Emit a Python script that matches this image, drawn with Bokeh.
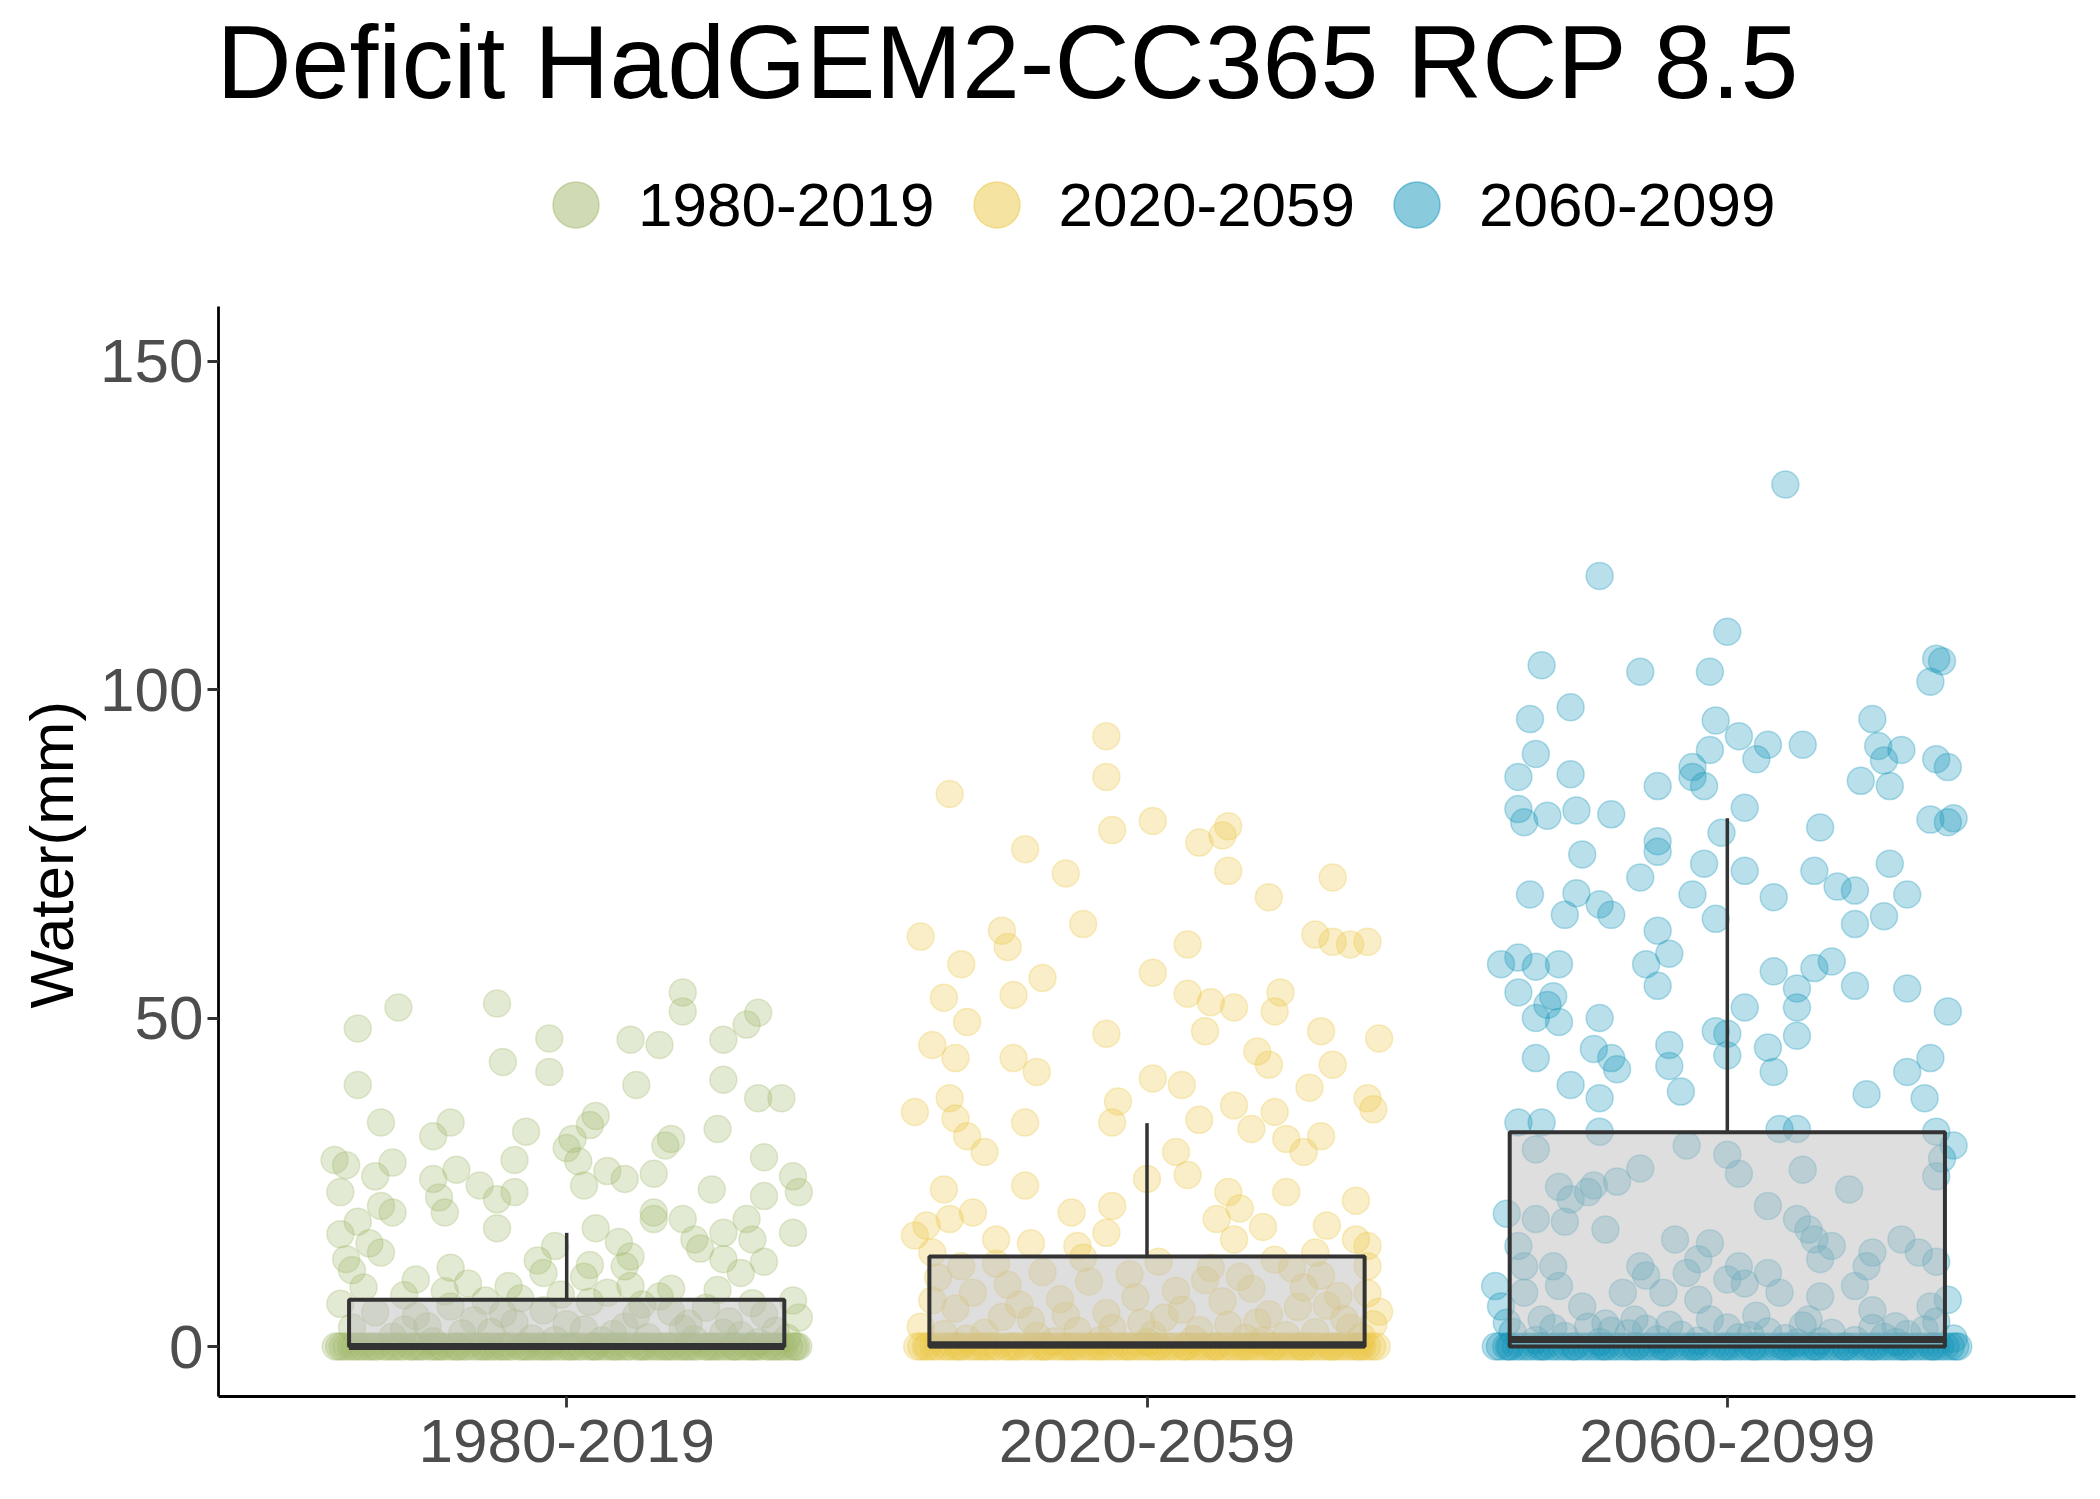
from bokeh.plotting import figure
from bokeh.models import Range1d, FixedTicker, Legend, LegendItem, Label, Title
from bokeh.embed import file_html
from bokeh.resources import INLINE

periods = ["1980-2019", "2020-2059", "2060-2099"]
colors = ["#A2B86C", "#EBC844", "#1496BB"]
title_text = "Deficit HadGEM2-CC365 RCP 8.5"

# boxplot stats (mm)
box_q1 = [0.0, 0.0, 0.0]
box_med = [0.0, 0.25, 1.05]
box_q3 = [7.1, 13.7, 32.6]
whisk_hi = [17.3, 34.0, 80.4]

# jittered monthly deficits, non-zero values (offset from the category, water mm)
g1_jit = [-0.29, -0.12, 0.20, 0.20, 0.33, 0.31, -0.36, -0.03, 0.11, 0.16,
          0.27, -0.11, -0.03, -0.36, 0.12, 0.27, 0.33, 0.37, -0.32, -0.20,
          -0.23, 0.05, 0.04, -0.07, 0.26, 0.00, 0.01, 0.17, 0.18, -0.40,
          -0.38, -0.30, -0.33, -0.19, -0.09, 0.02, 0.07, 0.10, 0.15, 0.34,
          0.39, 0.03, -0.15, -0.09, -0.23, -0.39, 0.40, 0.25, 0.34, -0.22,
          -0.12, -0.32, -0.30, -0.21, 0.15, 0.15, 0.20, -0.36, 0.31, -0.12,
          -0.39, 0.05, 0.27, 0.39, -0.34, 0.32, 0.22, -0.02, 0.09, -0.38,
          -0.32, 0.11, 0.23, -0.05, 0.10, 0.04, -0.37, -0.20, 0.27, -0.04,
          0.34, 0.30, 0.03, -0.26, -0.17, 0.11, 0.18, -0.10,
          -0.39, -0.33, -0.28, -0.24, -0.20, -0.16, -0.13, -0.08, -0.04, 0.00,
          0.04, 0.08, 0.12, 0.16, 0.20, 0.24, 0.28, 0.32, 0.36, 0.40,
          -0.37, -0.30, -0.26, -0.21, -0.18, -0.11, -0.06, -0.01, 0.03, 0.07,
          0.10, 0.14, 0.18, 0.22, 0.26, 0.30, 0.34, 0.38, -0.35, -0.23,
          -0.09, 0.06, 0.21, 0.33, 0.39, -0.14, -0.02, 0.13, 0.27, -0.28]
g1_val = [51.6, 52.2, 53.9, 51.0, 50.8, 49.0, 48.4, 46.9, 46.7, 45.9,
          46.7, 43.3, 41.8, 39.8, 39.8, 40.6, 37.8, 37.8, 34.1, 34.1,
          32.0, 35.1, 33.7, 32.7, 33.1, 30.2, 31.6, 30.6, 31.6, 28.4,
          27.6, 28.0, 25.9, 26.9, 28.4, 28.2, 26.7, 25.5, 26.3, 28.8,
          25.9, 24.5, 24.5, 23.5, 25.5, 23.5, 23.5, 23.9, 22.9, 22.7,
          22.4, 21.4, 20.4, 20.4, 20.4, 19.4, 19.4, 19.0, 19.4, 18.0,
          17.1, 18.0, 17.3, 17.3, 15.7, 16.3, 16.3, 15.3, 15.9, 13.3,
          14.3, 13.7, 14.9, 13.1, 12.2, 12.4, 11.6, 12.0, 13.3, 11.2,
          12.9, 11.2, 10.6, 10.2, 9.6, 9.2, 8.8, 9.2,
          6.5, 5.2, 7.8, 3.1, 6.1, 4.0, 2.2, 7.3, 5.5, 3.4,
          6.8, 1.9, 4.8, 7.6, 2.7, 5.9, 3.8, 6.6, 2.4, 4.4,
          2.9, 1.5, 4.6, 8.4, 2.0, 5.0, 1.2, 7.9, 2.6, 8.2,
          3.0, 1.4, 5.3, 1.1, 8.6, 1.7, 4.9, 1.3, 9.0, 0.8,
          3.6, 0.9, 3.5, 0.7, 7.0, 7.0, 1.0, 6.4, 2.1, 2.6]

g2_jit = [-0.07, -0.07, -0.34, 0.01, -0.06, 0.14, 0.13, 0.09, -0.21, -0.14,
          0.14, 0.32, 0.21, -0.11, -0.39, -0.25, -0.24, 0.07, 0.29, 0.32,
          0.35, 0.38, -0.32, -0.18, 0.01, -0.35, -0.23, 0.07, 0.11, 0.15,
          0.22, 0.23, -0.31, -0.07, 0.10, 0.30, -0.37, -0.33, -0.23, -0.19,
          0.01, 0.06, 0.19, 0.21, 0.40, 0.32, -0.34, -0.05, -0.40, -0.33,
          -0.21, -0.06, 0.09, 0.15, 0.18, 0.38, 0.39, 0.22, 0.28, 0.24,
          -0.31, -0.28, 0.05, 0.27, 0.30, -0.21, -0.35, 0.00, 0.07, 0.14,
          0.24, 0.36, 0.16, -0.30, -0.13, -0.06, 0.12, 0.20, -0.07, -0.40,
          -0.26, -0.20, -0.37, -0.34, 0.31, 0.38, 0.38, 0.29, -0.12, -0.32,
          -0.38, 0.15, 0.36,
          -0.36, -0.30, -0.26, -0.22, -0.18, -0.14, -0.10, -0.06, -0.02, 0.02,
          0.06, 0.10, 0.14, 0.18, 0.22, 0.26, 0.30, 0.34, 0.38, -0.39,
          -0.33, -0.28, -0.24, -0.19, -0.15, -0.11, -0.07, -0.03, 0.01, 0.05,
          0.09, 0.13, 0.17, 0.21, 0.25, 0.29, 0.33, 0.37, 0.40, -0.37,
          -0.31, -0.20, -0.08, 0.03, 0.11, 0.19, 0.27, 0.35, -0.35, -0.25,
          -0.12, -0.01, 0.08, 0.16, 0.24, 0.31, 0.39, -0.16, 0.00, 0.20]
g2_val = [92.9, 86.7, 84.1, 80.0, 78.6, 79.2, 77.8, 76.7, 75.7, 72.0,
          72.4, 71.4, 68.4, 64.3, 62.4, 63.3, 60.8, 61.2, 62.7, 61.6,
          61.2, 61.6, 58.2, 56.1, 56.9, 53.1, 53.5, 53.7, 52.4, 51.6,
          51.0, 53.9, 49.4, 47.6, 48.0, 48.0, 45.9, 43.9, 43.9, 41.8,
          40.8, 39.8, 44.9, 42.9, 46.9, 42.9, 37.8, 37.3, 35.7, 34.7,
          34.1, 34.1, 34.5, 36.7, 33.1, 37.8, 36.1, 35.7, 39.4, 31.6,
          32.0, 29.6, 29.6, 29.6, 32.0, 24.5, 23.9, 25.5, 26.1, 23.5,
          23.5, 22.2, 21.0, 20.4, 20.4, 21.4, 19.4, 18.2, 17.3, 16.9,
          16.3, 15.7, 14.3, 19.4, 18.4, 15.3, 12.2, 14.3, 15.3, 12.2,
          18.4, 16.3, 16.3,
          10.5, 8.2, 12.6, 6.4, 11.3, 4.7, 9.9, 2.8, 7.5, 12.9,
          5.6, 10.1, 3.3, 8.8, 13.2, 6.0, 10.8, 4.2, 8.1, 3.0,
          5.8, 2.1, 9.4, 1.6, 7.2, 13.5, 5.1, 11.0, 1.8, 8.5,
          2.5, 6.9, 1.3, 4.9, 11.9, 2.2, 7.7, 1.5, 5.3, 7.0,
          1.2, 4.0, 1.0, 4.4, 12.0, 3.7, 9.0, 2.9, 1.9, 4.5,
          2.4, 3.6, 1.1, 10.6, 1.7, 6.2, 3.4, 0.8, 0.7, 0.9]

g3_jit = [0.10, -0.22, 0.00, -0.32, -0.15, -0.03, 0.36, 0.37, 0.35, -0.27,
          -0.34, -0.02, 0.25, -0.33, -0.03, 0.02, 0.07, 0.13, 0.26, 0.30,
          0.27, 0.36, 0.38, -0.36, -0.27, -0.06, -0.06, -0.12, -0.04, 0.05,
          0.23, 0.28, -0.36, -0.31, -0.26, -0.20, 0.03, -0.35, 0.16, 0.35,
          0.39, 0.38, -0.01, -0.12, -0.12, -0.25, -0.04, 0.03, 0.28, -0.15,
          0.15, 0.19, -0.34, -0.26, -0.06, 0.08, 0.22, -0.22, -0.28, -0.20,
          -0.02, -0.12, 0.22, 0.27, 0.31, -0.10, -0.39, -0.36, -0.33, -0.29,
          -0.14, 0.08, 0.15, 0.18, -0.36, -0.30, -0.12, 0.12, 0.22, 0.31,
          -0.31, 0.12, 0.03, -0.33, -0.29, -0.22, 0.38, -0.02, 0.00, 0.12,
          -0.23, -0.10, 0.07, -0.20, -0.33, -0.10, -0.19, 0.00, 0.31, 0.35,
          0.08, -0.27, -0.08, 0.24, 0.34, -0.22, -0.36, -0.32, -0.22, 0.12,
          0.09, 0.36, 0.39, -0.33, -0.07, 0.00, 0.37, -0.15, 0.02, 0.13,
          0.36, -0.29, -0.23, 0.21, -0.27, -0.19, -0.24, 0.07, -0.38, 0.12,
          -0.28, -0.33, -0.21, 0.14, 0.15, -0.09, -0.03, -0.36, 0.30, 0.25,
          0.18, 0.24, -0.35, -0.30, -0.15, 0.02, 0.07, -0.05, 0.16, 0.33,
          0.36, -0.14, -0.07, 0.00, 0.03, -0.29, -0.18, 0.22, -0.40, -0.35,
          -0.11, 0.09, 0.16, -0.39, -0.25, -0.05, 0.25, 0.38, 0.35, 0.05,
          -0.16, -0.03, 0.14, -0.32, -0.21, 0.29, -0.14,
          -0.37, -0.28, -0.20, -0.08, 0.00, 0.10, 0.18, 0.27, 0.34, 0.39,
          -0.33, -0.24, -0.12, 0.04, 0.13, 0.22, 0.31, -0.38, -0.17, 0.07,
          0.36, -0.05, 0.16, 0.25, -0.30, -0.10, 0.02, 0.12, 0.29, -0.22]
g3_val = [131.2, 117.3, 108.8, 103.7, 102.7, 102.7, 104.7, 104.3, 101.2, 97.3,
          95.5, 95.3, 95.5, 90.2, 90.8, 92.9, 91.6, 91.6, 91.4, 90.8,
          89.2, 89.4, 88.2, 86.7, 87.1, 88.2, 86.7, 85.3, 85.3, 89.4,
          86.1, 85.3, 81.8, 80.8, 81.6, 81.0, 82.0, 79.8, 79.0, 80.2,
          80.4, 79.8, 78.2, 76.9, 75.3, 74.9, 73.5, 72.4, 73.5, 71.4,
          72.4, 70.0, 68.8, 69.0, 68.8, 68.4, 69.4, 67.3, 65.7, 65.7,
          65.1, 63.3, 64.3, 65.5, 68.8, 59.8, 58.2, 59.2, 57.8, 58.2,
          58.2, 57.1, 57.6, 58.6, 53.9, 53.3, 54.9, 54.5, 54.9, 54.5,
          52.0, 51.6, 51.6, 50.0, 49.4, 50.0, 51.0, 48.0, 47.6, 47.3,
          45.3, 45.9, 45.5, 43.9, 43.9, 42.7, 42.2, 44.3, 41.8, 43.9,
          41.8, 39.8, 38.8, 38.4, 37.8, 37.8, 34.1, 34.1, 32.7, 33.1,
          33.1, 32.7, 30.6, 30.0, 30.6, 29.2, 28.6, 27.1, 26.3, 26.9,
          25.9, 24.3, 24.5, 23.9, 22.4, 25.1, 23.5, 21.4, 20.2, 19.4,
          19.0, 19.4, 17.8, 17.8, 16.3, 16.3, 15.7, 15.3, 16.3, 14.3,
          15.3, 12.2, 12.2, 12.2, 12.2, 12.2, 11.2, 13.3, 13.3, 14.3,
          12.9, 10.8, 11.2, 10.2, 9.6, 9.2, 8.2, 9.2, 9.2, 8.2,
          8.2, 8.2, 7.6, 6.1, 6.1, 7.1, 5.5, 7.1, 6.1, 4.7,
          4.1, 4.1, 4.1, 4.1, 3.5, 3.1, 2.7,
          2.2, 1.6, 2.4, 1.8, 2.9, 1.3, 2.1, 1.5, 2.6, 1.2,
          1.0, 3.0, 1.1, 1.7, 3.2, 1.0, 1.9, 3.6, 2.0, 2.3,
          3.8, 0.9, 0.8, 2.8, 2.8, 3.3, 1.4, 0.6, 0.7, 0.7]

# months with zero deficit (jitter offsets only)
g1_zero = [-0.398, -0.386, -0.379, -0.371, -0.358, -0.352, -0.344, -0.331, -0.327, -0.315,
           -0.309, -0.296, -0.288, -0.281, -0.270, -0.266, -0.253, -0.247, -0.236, -0.229,
           -0.218, -0.214, -0.203, -0.195, -0.186, -0.177, -0.171, -0.160, -0.152, -0.145,
           -0.133, -0.128, -0.119, -0.108, -0.101, -0.094, -0.082, -0.077, -0.066, -0.058,
           -0.049, -0.043, -0.031, -0.024, -0.016, -0.007, 0.002, 0.011, 0.019, 0.026,
           0.037, 0.044, 0.052, 0.061, 0.069, 0.078, 0.083, 0.095, 0.103, 0.109,
           0.121, 0.127, 0.136, 0.144, 0.153, 0.160, 0.168, 0.179, 0.185, 0.194,
           0.201, 0.212, 0.219, 0.226, 0.238, 0.243, 0.254, 0.261, 0.268, 0.277,
           0.286, 0.293, 0.302, 0.311, 0.317, 0.326, 0.333, 0.345, 0.349, 0.361,
           0.368, 0.374, 0.383, 0.391, 0.399, -0.392, -0.365, -0.338, -0.301, -0.259,
           -0.224, -0.189, -0.141, -0.112, -0.071, -0.037, 0.006, 0.048, 0.087, 0.131,
           0.172, 0.207, 0.249, 0.289, 0.322, 0.357, 0.395]
g2_zero = [-0.396, -0.389, -0.377, -0.368, -0.361, -0.349, -0.342, -0.334, -0.323, -0.318,
           -0.306, -0.298, -0.291, -0.279, -0.272, -0.263, -0.257, -0.244, -0.238, -0.226,
           -0.221, -0.209, -0.201, -0.193, -0.184, -0.175, -0.168, -0.157, -0.149, -0.141,
           -0.135, -0.124, -0.116, -0.105, -0.098, -0.091, -0.079, -0.072, -0.063, -0.055,
           -0.047, -0.038, -0.029, -0.021, -0.012, -0.004, 0.005, 0.013, 0.022, 0.031,
           0.039, 0.046, 0.057, 0.064, 0.072, 0.081, 0.089, 0.097, 0.106, 0.114,
           0.122, 0.131, 0.139, 0.147, 0.156, 0.163, 0.174, 0.181, 0.189, 0.198,
           0.206, 0.214, 0.223, 0.231, 0.239, 0.248, 0.257, 0.264, 0.272, 0.281,
           0.288, 0.297, 0.306, 0.314, 0.322, 0.329, 0.338, 0.347, 0.355, 0.362,
           0.371, 0.379, 0.388, 0.396, -0.381, -0.327, -0.283, -0.232, -0.178, -0.129,
           -0.084, -0.033, 0.018, 0.067, 0.118, 0.169, 0.218, 0.268, 0.318, 0.367]
g3_zero = [-0.399, -0.392, -0.381, -0.373, -0.364, -0.356, -0.347, -0.339, -0.329, -0.322,
           -0.313, -0.303, -0.295, -0.286, -0.278, -0.269, -0.261, -0.251, -0.243, -0.234,
           -0.226, -0.217, -0.208, -0.199, -0.191, -0.182, -0.173, -0.165, -0.156, -0.147,
           -0.139, -0.131, -0.121, -0.113, -0.104, -0.096, -0.087, -0.078, -0.069, -0.061,
           -0.052, -0.044, -0.035, -0.026, -0.018, -0.009, 0.001, 0.008, 0.017, 0.025,
           0.034, 0.043, 0.051, 0.059, 0.068, 0.077, 0.086, 0.094, 0.103, 0.111,
           0.119, 0.128, 0.137, 0.146, 0.154, 0.162, 0.171, 0.179, 0.188, 0.197,
           0.205, 0.213, 0.222, 0.231, 0.239, 0.247, 0.256, 0.265, 0.273, 0.282,
           0.291, 0.299, 0.308, 0.316, 0.325, 0.333, 0.342, 0.351, 0.359, 0.367,
           0.376, 0.385, 0.393, 0.398, -0.376, -0.318, -0.264, -0.212, -0.158, -0.109,
           -0.057, -0.004, 0.046, 0.099, 0.151, 0.203, 0.252, 0.304, 0.354]

FONT = "Liberation Sans"
NAN = float("nan")
Y_LO, Y_HI = -7.61, 158.3      # visible value range of the panel
Y_TOP = 204.88                  # frame runs up to the canvas top (room for title + legend)

p = figure(width=2092, height=1491, x_range=Range1d(0.4, 3.6), y_range=Range1d(Y_LO, Y_TOP),
           output_backend="svg", toolbar_location=None,
           min_border_left=218, min_border_right=17, min_border_top=0, min_border_bottom=95)
p.outline_line_color = None
p.grid.visible = False
p.background_fill_color = "white"

groups = [(g1_jit, g1_val, g1_zero), (g2_jit, g2_val, g2_zero), (g3_jit, g3_val, g3_zero)]
for i, (jit, val, zero) in enumerate(groups):
    xs = [i + 1 + j for j in jit] + [i + 1 + z for z in zero]
    ys = list(val) + [0.0] * len(zero)
    p.scatter(xs, ys, size=27, marker="circle", fill_color=colors[i], fill_alpha=0.3,
              line_color=colors[i], line_alpha=0.3, line_width=1.5)

centers = [1, 2, 3]
half = 0.375
p.segment(x0=centers, y0=box_q3, x1=centers, y1=whisk_hi, line_color="#333333", line_width=3.5)
p.quad(left=[c - half for c in centers], right=[c + half for c in centers],
       bottom=box_q1, top=box_q3, fill_color="#BEBEBE", fill_alpha=0.5,
       line_color="#333333", line_width=4)
p.segment(x0=[c - half for c in centers], y0=box_med, x1=[c + half for c in centers], y1=box_med,
          line_color="#333333", line_width=7, line_cap="butt")

p.add_layout(Label(x=0.4, y=195.46, x_offset=-2, text=title_text, text_font=FONT,
                   text_font_size="104px", text_color="black", text_align="left",
                   text_baseline="alphabetic"))

# legend keys (drawn a bit stronger than the points); NaN rows keep them off the plot
items = []
for i in range(3):
    r = p.scatter([NAN], [NAN], size=46, marker="circle", fill_color=colors[i], fill_alpha=0.5,
                  line_color=colors[i], line_alpha=0.5, line_width=1.5)
    items.append(LegendItem(label=periods[i], renderers=[r], index=0))
legend = Legend(items=items, orientation="horizontal", location=(300, 1134),
                glyph_width=115, glyph_height=115, label_standoff=5, spacing=4,
                padding=0, margin=0, border_line_color=None, background_fill_alpha=0,
                label_text_font=FONT, label_text_font_size="62px", label_text_color="black")
p.add_layout(legend, "center")

for ax in (p.xaxis, p.yaxis):
    ax.axis_line_color = "black"
    ax.axis_line_width = 2.8
    ax.major_tick_line_color = "#333333"
    ax.major_tick_line_width = 2.8
    ax.major_tick_out = 11
    ax.major_tick_in = 0
    ax.minor_tick_line_color = None
    ax.major_label_text_font = FONT
    ax.major_label_text_font_size = "62px"
    ax.major_label_text_color = "#4D4D4D"

p.xaxis.major_label_standoff = 12
p.yaxis.major_label_standoff = 4
p.xaxis.ticker = FixedTicker(ticks=centers)
p.xaxis.major_label_overrides = {c: lab for c, lab in zip(centers, periods)}
p.yaxis.ticker = FixedTicker(ticks=[0, 50, 100, 150])
p.yaxis.bounds = (Y_LO, Y_HI)

# y axis title, centred on the visible value range rather than the whole frame
ylab = Title(text="Water(mm)", align="left", offset=388, standoff=24, text_font=FONT,
             text_font_size="62px", text_font_style="normal", text_color="black")
p.add_layout(ylab, "left")

open("out.html", "w").write(file_html(p, INLINE))
